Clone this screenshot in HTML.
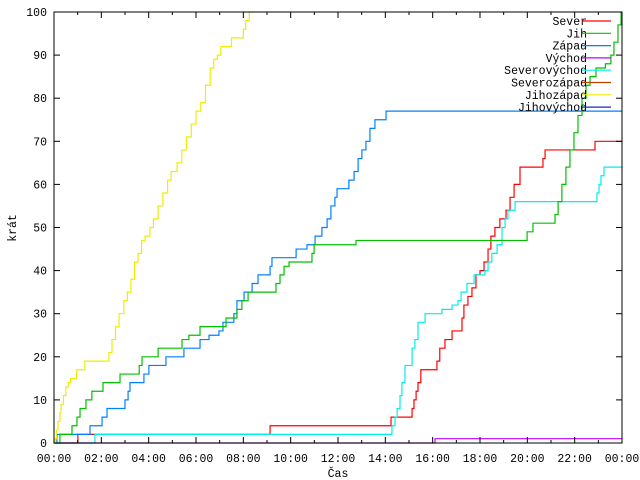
<!DOCTYPE html>
<html><head><meta charset="utf-8"><style>
html,body{margin:0;padding:0;background:#fff;}
svg{display:block;font-family:"Liberation Mono",monospace;font-size:11.5px;}
</style></head><body>
<svg id="chart" width="640" height="480" viewBox="0 0 640 480" xmlns="http://www.w3.org/2000/svg">
<rect width="640" height="480" fill="#fff"/>
<g id="series"></g>
<g id="axes"></g>
<g id="legend"></g>
<text x="338" y="477" text-anchor="middle">Čas</text>
<text transform="translate(16,228) rotate(-90)" text-anchor="middle">krát</text>
</svg>
<script>
const yTicks=[0,10,20,30,40,50,60,70,80,90,100];
const xTickLabels=["00:00","02:00","04:00","06:00","08:00","10:00","12:00","14:00","16:00","18:00","20:00","22:00","00:00"];
const seriesNames=["Sever","Jih","Západ","Východ","Severovýchod","Severozápad","Jihozápad","Jihovýchod"];
const seriesColors=["#ff0000","#00c000","#0080ff","#c000ff","#00eeee","#c04000","#eeee00","#2020c0"];
const severH=[1.01,9.13,14.24,15.13,15.21,15.3,15.38,15.5,16.18,16.3,16.52,16.82,17.24,17.32,17.49,17.66,17.83,18.0,18.17,18.34,18.46,18.63,18.84,19.1,19.27,19.44,19.69,20.66,20.75,22.86];
const severV=[2,4,6,8,10,12,14,17,19,22,24,26,29,32,34,36,39,40,42,45,48,50,52,54,57,60,64,66,68,70];
const jihH=[0.25,0.76,0.97,1.1,1.35,1.6,2.07,2.79,3.6,3.72,4.4,5.41,5.7,6.17,7.27,7.73,7.94,8.2,9.38,9.55,9.72,9.93,10.9,10.99,12.76,19.99,20.24,21.17,21.3,21.46,21.63,21.8,21.97,22.14,22.31,22.48,22.65,22.9,23.3,23.53,23.66,23.83,23.96];
const jihV=[2,4,6,8,10,12,14,16,18,20,22,24,25,27,29,31,33,35,37,39,41,42,44,46,47,49,51,53,56,60,64,68,72,76,80,83,85,87,88,90,93,97,100];
const zapadH=[0.12,1.52,2.03,2.24,3.0,3.13,3.21,3.8,4.01,4.73,5.49,6.17,6.55,6.97,7.14,7.6,7.73,8.03,8.37,8.62,9.13,9.21,10.23,10.69,11.03,11.32,11.54,11.7,11.87,11.96,12.46,12.68,12.85,13.01,13.18,13.35,13.56,14.03];
const zapadV=[2,4,6,8,10,12,14,16,18,20,22,24,25,26,28,30,33,35,37,39,41,43,45,46,48,50,52,55,57,59,61,63,66,68,70,73,75,77];
const vychodH=[16.1];
const vychodV=[1];
const svH=[1.73,14.28,14.41,14.5,14.62,14.7,14.83,15.13,15.25,15.38,15.68,16.39,16.82,17.07,17.2,17.45,17.75,18.21,18.34,18.5,18.72,18.93,19.06,19.18,19.48,22.94,23.03,23.11,23.24];
const svV=[2,4,6,8,11,14,18,22,24,28,30,31,32,33,35,37,39,40,42,44,46,50,52,54,56,58,60,62,64];
const jzH=[0.05,0.1,0.17,0.25,0.3,0.4,0.5,0.6,0.7,0.95,1.3,2.32,2.45,2.6,2.75,2.95,3.1,3.25,3.4,3.55,3.7,3.85,4.05,4.2,4.4,4.6,4.8,4.95,5.2,5.4,5.6,5.8,6.0,6.2,6.4,6.6,6.75,6.9,7.05,7.5,8.0,8.1,8.25,8.45];
const jzV=[1,3,5,7,9,11,13,14,15,17,19,21,24,27,30,33,35,38,42,44,47,48,50,52,55,58,61,63,65,68,71,74,77,79,83,87,89,90,92,94,96,98,100];
const NS="http://www.w3.org/2000/svg";
const X0=54,X1=622,Y0=443,Y1=12;
function xs(h){return X0+(h/24)*(X1-X0);}
function ys(v){return Y0-(v/100)*(Y0-Y1);}
function mk(tag,attrs,parent){const e=document.createElementNS(NS,tag);for(const k in attrs)e.setAttribute(k,attrs[k]);parent.appendChild(e);return e;}
const sg=document.getElementById('series');
const allSeries=[[severH,severV,0],[svH,svV,4],[vychodH,vychodV,3],[zapadH,zapadV,2],[jihH,jihV,1],[jzH,jzV,6]];
allSeries.forEach(function(s){
  const H=s[0],V=s[1];
  let d="M"+xs(0)+" "+ys(0);
  for(let i=0;i<H.length;i++){d+=" H"+xs(H[i]).toFixed(2)+" V"+ys(V[i]).toFixed(2);}
  d+=" H"+xs(24);
  const p=mk('path',{d:d,fill:'none',stroke:seriesColors[s[2]],'stroke-width':1.2},sg);
  
  
});
const ax=document.getElementById('axes');
const frame=mk('rect',{x:X0,y:Y1,width:X1-X0,height:Y0-Y1,fill:'none',stroke:'#000','stroke-width':1},ax);


yTicks.forEach(function(v){
  const y=ys(v);
  mk('line',{x1:X0,x2:X0+6,y1:y,y2:y,stroke:'#000'},ax);
  mk('line',{x1:X1,x2:X1-6,y1:y,y2:y,stroke:'#000'},ax);
  const t=mk('text',{x:X0-7,y:y+4,'text-anchor':'end'},ax);
  t.textContent=v;
  
  
});
for(let h=0;h<=24;h++){
  const x=xs(h),len=(h%2===0)?6:3;
  mk('line',{x1:x,x2:x,y1:Y0,y2:Y0-len,stroke:'#000'},ax);
  mk('line',{x1:x,x2:x,y1:Y1,y2:Y1+len,stroke:'#000'},ax);
}
xTickLabels.forEach(function(l,i){
  const t=mk('text',{x:xs(i*2),y:462,'text-anchor':'middle'},ax);
  t.textContent=l;
  
  
});
const lg=document.getElementById('legend');
seriesNames.forEach(function(n,i){
  const y=21+i*12.3;
  const t=mk('text',{x:587,y:y+4,'text-anchor':'end'},lg);
  t.textContent=n;
  
  
  const l=mk('line',{x1:582,x2:611,y1:y,y2:y,stroke:seriesColors[i],'stroke-width':1.2},lg);
  
  
});
</script>
</body></html>
